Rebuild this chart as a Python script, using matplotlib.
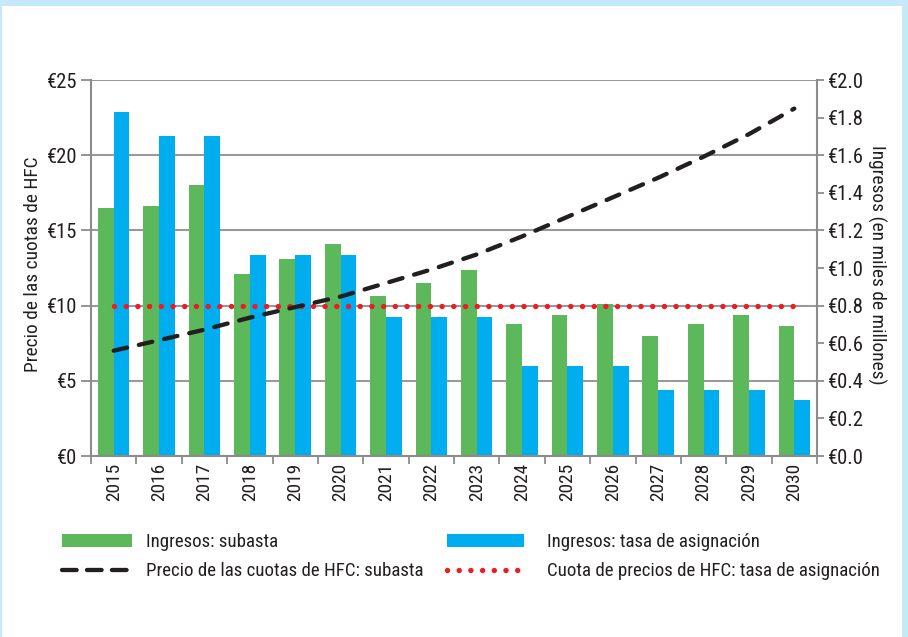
import matplotlib
matplotlib.use("Agg")
import matplotlib.pyplot as plt
from matplotlib import font_manager as fm
from matplotlib.patches import Rectangle, Patch
from matplotlib.lines import Line2D
from matplotlib.ticker import FixedLocator, FuncFormatter
import numpy as np

# ---------------- data ----------------
years = ["2015", "2016", "2017", "2018", "2019", "2020", "2021", "2022",
         "2023", "2024", "2025", "2026", "2027", "2028", "2029", "2030"]
ingresos_subasta = [1.32, 1.33, 1.44, 0.97, 1.05, 1.13, 0.85, 0.92,
                    0.99, 0.70, 0.75, 0.81, 0.64, 0.70, 0.75, 0.69]
ingresos_tasa = [1.83, 1.70, 1.70, 1.07, 1.07, 1.07, 0.74, 0.74,
                 0.74, 0.48, 0.48, 0.48, 0.35, 0.35, 0.35, 0.30]
precio_subasta = [7.0, 7.7, 8.4, 9.2, 9.9, 10.6, 11.5, 12.4,
                  13.4, 14.6, 15.9, 17.2, 18.5, 19.9, 21.4, 23.1]
cuota_tasa = [10.0, 10.0, 10.0, 10.0, 10.0, 10.0, 10.0, 10.0,
              10.0, 10.0, 10.0, 10.0, 10.0, 10.0, 10.0, 10.0]
left_ticks = [0, 5, 10, 15, 20, 25]
right_ticks_major = [0.0, 0.4, 0.8, 1.2, 1.6, 2.0]
right_ticks_minor = [0.2, 0.6, 1.0, 1.4, 1.8]

lbl_sub = "Ingresos: subasta"
lbl_tasa = "Ingresos: tasa de asignación"
lbl_precio = "Precio de las cuotas de HFC: subasta"
lbl_cuota = "Cuota de precios de HFC: tasa de asignación"
ylabel_left = "Precio de las cuotas de HFC"
ylabel_right = "Ingresos (en miles de millones)"

# ---------------- font ----------------
names = {f.name for f in fm.fontManager.ttflist}
stretch = "normal"
scale = 1.0
if "Liberation Sans Narrow" in names:
    family = ["Liberation Sans Narrow", "DejaVu Sans"]
elif "Roboto Condensed" in names:
    family = ["Roboto Condensed", "DejaVu Sans"]
    scale = 0.93
elif any(f.name == "DejaVu Sans" and "condensed" in str(f.stretch).lower() for f in fm.fontManager.ttflist):
    family = ["DejaVu Sans"]
    stretch = "condensed"
    scale = 0.85
else:
    family = ["Liberation Sans", "DejaVu Sans"]
    scale = 0.82
plt.rcParams["font.family"] = family
plt.rcParams["font.stretch"] = stretch

FS_TICK = 16 * scale
FS_YEAR = 15 * scale
FS_LABEL = 15 * scale
FS_LEG = 14.6 * scale

TXT = "#231F20"
GRID = "#8C8C8C"
GREEN = "#5CB85A"
BLUE = "#00AEEF"
RED = "#ED1C24"

W, H = 908, 637
fig = plt.figure(figsize=(W / 100, H / 100), dpi=100)
fig.patch.set_facecolor("#C6E9F9")
fig.add_artist(Rectangle((2 / W, 0), 900 / W, 1 - 6 / H, transform=fig.transFigure,
                         facecolor="white", edgecolor="none", zorder=-1))

ax = fig.add_axes([91 / W, 1 - 456 / H, 726 / W, 376 / H])
ax2 = ax.twinx()
x = np.arange(len(years))
bw = 0.346

# ---- bars (right scale, on ax) ----
ax.bar(x - bw / 2, ingresos_subasta, width=bw, color=GREEN, zorder=2)
ax.bar(x + bw / 2, ingresos_tasa, width=bw, color=BLUE, zorder=2)
ax.set_ylim(0, 2.0)
ax.set_xlim(-0.5, len(years) - 0.5)
ax.yaxis.set_major_locator(FixedLocator(right_ticks_major))
ax.yaxis.set_minor_locator(FixedLocator(right_ticks_minor))
fmt = FuncFormatter(lambda v, p: "€%.1f" % v)
ax.yaxis.set_major_formatter(fmt)
ax.yaxis.set_minor_formatter(fmt)
ax.yaxis.tick_right()
ax.tick_params(axis="y", which="both", right=True, left=False, labelright=True,
               labelleft=False, length=5, width=1.3, color=GRID, labelsize=FS_TICK,
               labelcolor=TXT, pad=3)
ax.set_axisbelow(True)
ax.grid(axis="y", which="major", color="#999999", linewidth=1.5, zorder=0)

ax.set_xticks(x)
ax.set_xticklabels(years, rotation=90, fontsize=FS_YEAR, color=TXT)
ax.xaxis.set_minor_locator(FixedLocator(np.arange(-0.5, len(years), 1.0)))
ax.tick_params(axis="x", which="major", length=0, pad=5)
ax.tick_params(axis="x", which="minor", length=6, width=1.3, color=GRID)

for s in ["top", "left"]:
    ax.spines[s].set_visible(False)
for s in ["bottom", "right"]:
    ax.spines[s].set_color(GRID)
    ax.spines[s].set_linewidth(1.5)

ax.yaxis.set_label_position("right")
ax.set_ylabel(ylabel_right, rotation=270, fontsize=FS_LABEL, color=TXT,
              va="center", ha="center", rotation_mode="anchor")
ax.yaxis.set_label_coords((877 - 91) / 726, (456 - 265) / 376)

# ---- lines (left scale, on ax2) ----
ax2.set_zorder(ax.get_zorder() + 1)
ax2.patch.set_visible(False)
ax2.set_ylim(0, 25)
ax2.set_yticks(left_ticks)
ax2.set_yticklabels(["€%d" % v for v in left_ticks])
ax2.yaxis.tick_left()
ax2.tick_params(axis="y", left=True, right=False, labelleft=True, labelright=False,
                length=7, width=1.3, color=GRID, labelsize=FS_TICK, labelcolor=TXT, pad=3)
for s in ["top", "right", "bottom"]:
    ax2.spines[s].set_visible(False)
ax2.spines["left"].set_visible(True)
ax2.spines["left"].set_color(GRID)
ax2.spines["left"].set_linewidth(1.5)

ax2.plot(x, cuota_tasa, color=RED, linewidth=3.9, linestyle=(0, (0.01, 2.15)),
         dash_capstyle="round", zorder=3)
ax2.plot(x, precio_subasta, color="#231F20", linewidth=3.1,
         linestyle=(0, (3.2, 2.8)), dash_capstyle="round", zorder=4)

ax2.yaxis.set_label_position("left")
ax2.set_ylabel(ylabel_left, rotation=90, fontsize=FS_LABEL, color=TXT,
               va="center", ha="center", rotation_mode="anchor")
ax2.yaxis.set_label_coords((33 - 91) / 726, (456 - 264) / 376)

# ---- legends ----
h_green = Patch(facecolor=GREEN, edgecolor="none")
h_blue = Patch(facecolor=BLUE, edgecolor="none")
h_dash = Line2D([], [], color="#231F20", linewidth=3.1, linestyle=(0, (3.4, 2.4)),
                dash_capstyle="round")
h_dot = Line2D([], [], color=RED, linewidth=3.9, linestyle=(0, (0.01, 2.15)),
               dash_capstyle="round")

common = dict(frameon=False, borderpad=0, borderaxespad=0, fontsize=FS_LEG,
              labelspacing=0.6, handleheight=0.74, labelcolor=TXT)
leg1 = fig.legend([h_green, h_dash], [lbl_sub, lbl_precio], loc="upper left",
                  bbox_to_anchor=(62 / W, 1 - 533 / H), handlelength=3.7,
                  handletextpad=0.75, **common)
leg2 = fig.legend([h_blue, h_dot], [lbl_tasa, lbl_cuota], loc="upper left",
                  bbox_to_anchor=(447 / W, 1 - 533 / H), handlelength=4.1,
                  handletextpad=1.2, **common)

fig.savefig("out.png", dpi=100, facecolor=fig.get_facecolor())
